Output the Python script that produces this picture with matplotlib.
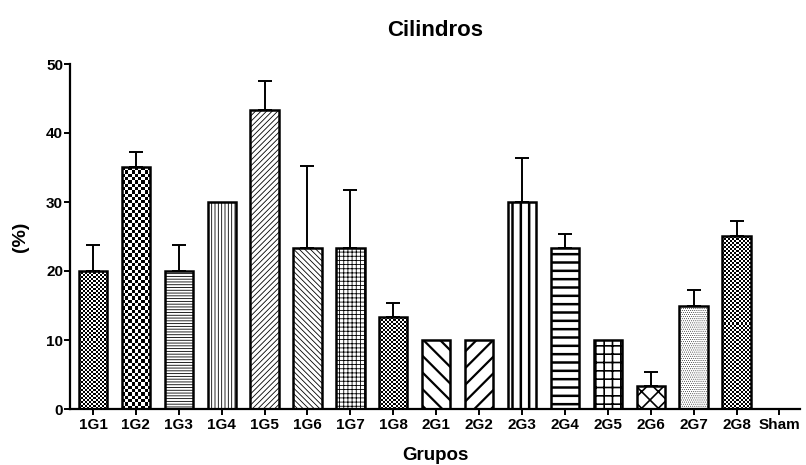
import numpy as np
import matplotlib
matplotlib.use("Agg")
import matplotlib.pyplot as plt

plt.rcParams["font.family"] = ["Liberation Sans", "DejaVu Sans"]
plt.rcParams["font.weight"] = "bold"

grupos = ["1G1", "1G2", "1G3", "1G4", "1G5", "1G6", "1G7", "1G8",
          "2G1", "2G2", "2G3", "2G4", "2G5", "2G6", "2G7", "2G8", "Sham"]
valores = [20, 35, 20, 30, 43.3, 23.3, 23.3, 13.3,
           10, 10, 30, 23.3, 10, 3.3, 15, 25, 0]
erros = [3.7, 2.2, 3.7, 0, 4.2, 11.9, 8.4, 2.1,
         0, 0, 6.4, 2.1, 0, 2.0, 2.2, 2.2, 0]

# hatch string, hatch line width (pt); "checkN" = checkerboard with N px cells
padroes = [("check2", 0), ("check3.3", 0), ("------", 0.6), ("|||||", 0.6),
           ("//////", 0.6), ("\\\\\\\\\\\\", 0.6), ("++++", 0.6), ("check2", 0),
           ("\\\\", 1.6), ("//", 1.6), ("||", 1.8), ("--", 1.8),
           ("++", 1.2), ("xx", 1.2), ("........", 0.3), ("check2", 0), ("", 0)]

fig = plt.figure(figsize=(8.06, 4.65), dpi=100)
ax = fig.add_axes([70 / 806, 56 / 465, 730 / 806, 345 / 465])

x = np.arange(len(grupos))
largura = 0.66
xlim = (-0.536, 16.48)
ylim = (0, 50)
ax.set_xlim(*xlim)
ax.set_ylim(*ylim)

# pixels per data unit, for the checkerboard fills
px_x = 730 / (xlim[1] - xlim[0])
px_y = 345 / (ylim[1] - ylim[0])

for i, (v, (h, lw)) in enumerate(zip(valores, padroes)):
    if v == 0:
        continue
    hatch = None if h.startswith("check") else h
    with plt.rc_context({"hatch.linewidth": max(lw, 0.1)}):
        bar = ax.bar(x[i], v, largura, color="white", edgecolor="black",
                     linewidth=1.8, hatch=hatch, zorder=3)[0]
        if hasattr(bar, "set_hatch_linewidth") and lw > 0:
            bar.set_hatch_linewidth(lw)
    if h.startswith("check"):
        cel = float(h[5:])
        nc = max(1, int(round(largura * px_x / cel)))
        nr = max(1, int(round(v * px_y / cel)))
        ii, jj = np.indices((nr, nc))
        img = ((ii + jj) % 2).astype(float)
        im = ax.imshow(img, cmap="gray", vmin=0, vmax=1, aspect="auto",
                       interpolation="nearest",
                       extent=(x[i] - largura / 2, x[i] + largura / 2, 0, v),
                       zorder=2)
        im.set_clip_path(bar)
        bar.set_facecolor("none")

ax.set_xlim(*xlim)
ax.set_ylim(*ylim)

for i, (v, e) in enumerate(zip(valores, erros)):
    if e > 0:
        ax.errorbar(x[i], v, yerr=[[0], [e]], fmt="none", ecolor="black",
                    elinewidth=1.4, capsize=5, capthick=1.4, zorder=2.5)

for s in ["top", "right"]:
    ax.spines[s].set_visible(False)
for s in ["left", "bottom"]:
    ax.spines[s].set_linewidth(1.6)
ax.spines["bottom"].set_zorder(5)

ax.set_yticks([0, 10, 20, 30, 40, 50])
ax.set_xticks(x)
ax.set_xticklabels(grupos)
ax.tick_params(axis="both", direction="out", length=4.5, width=1.4,
               labelsize=11)
ax.tick_params(axis="y", pad=0.5)
ax.tick_params(axis="x", pad=2)

ax.set_title("Cilindros", fontsize=16, fontweight="bold", pad=20)
ax.set_xlabel("Grupos", fontsize=13.5, fontweight="bold", labelpad=11)
ax.set_ylabel("(%)", fontsize=14, fontweight="bold", labelpad=12)

fig.savefig("out.png", dpi=100)
